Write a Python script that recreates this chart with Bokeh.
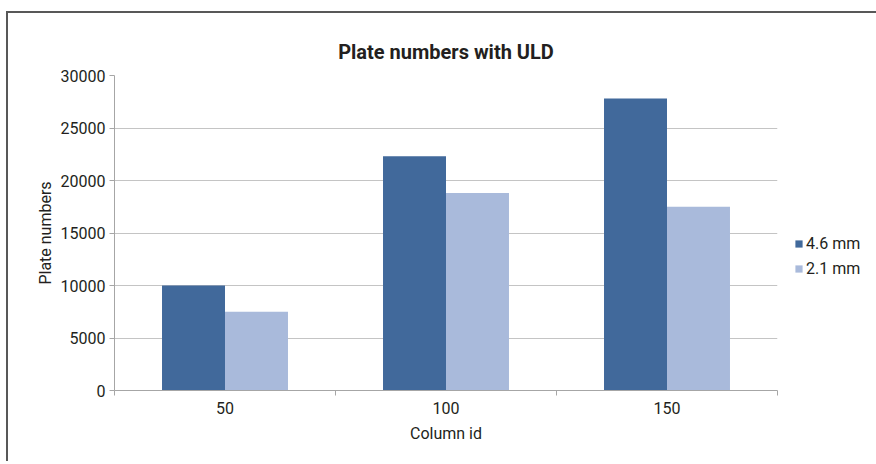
from bokeh.plotting import figure
from bokeh.models import FixedTicker, Legend, LegendItem, Range1d, ColumnDataSource
from bokeh.embed import file_html
from bokeh.resources import INLINE

# ---- data ----
categories = ["50", "100", "150"]
series_names = ["4.6 mm", "2.1 mm"]
values_46 = [10000, 22300, 27800]
values_21 = [7500, 18800, 17500]
y_ticks = [0, 5000, 10000, 15000, 20000, 25000, 30000]
title_text = "Plate numbers with ULD"
x_label = "Column id"
y_label = "Plate numbers"

FONT = "Roboto"
TEXT = "#231f20"
DARK = "#41699b"
LIGHT = "#a9badb"
AXIS = "#a6a6a6"
GRID = "#c4c4c4"

bar_w = 0.285
centers = [i + 0.5 for i in range(len(categories))]
boundaries = list(range(len(categories) + 1))

src = ColumnDataSource(dict(
    x46=[c - bar_w / 2 for c in centers],
    x21=[c + bar_w / 2 for c in centers],
    v46=values_46,
    v21=values_21,
))

p = figure(width=None, height=None, frame_width=663, frame_height=315,
           output_backend="svg", toolbar_location=None,
           x_range=Range1d(0, len(categories)), y_range=Range1d(0, 30000),
           min_border_left=106, min_border_right=99, min_border_top=62, min_border_bottom=71,
           title=title_text,
           styles={"margin-left": "6px", "margin-top": "11px",
                   "border-left": "2px solid #585858", "border-top": "2px solid #585858"})

r1 = p.vbar(x="x46", top="v46", width=bar_w, source=src, fill_color=DARK, line_color=None)
r2 = p.vbar(x="x21", top="v21", width=bar_w, source=src, fill_color=LIGHT, line_color=None)

p.title.align = "center"
p.title.text_font = FONT
p.title.text_font_style = "bold"
p.title.text_font_size = "20px"
p.title.text_color = TEXT
p.title.standoff = 23

# x axis
xa = p.xaxis[0]
xa.ticker = FixedTicker(ticks=centers, minor_ticks=boundaries)
xa.major_label_overrides = {c: lab for c, lab in zip(centers, categories)}
xa.major_tick_line_color = None
xa.major_tick_out = 5
xa.major_tick_in = 0
xa.minor_tick_out = 5
xa.minor_tick_in = 0
xa.minor_tick_line_color = AXIS
xa.axis_line_color = AXIS
xa.axis_label = x_label
xa.major_label_standoff = 6
xa.axis_label_standoff = 7

# y axis
ya = p.yaxis[0]
ya.ticker = FixedTicker(ticks=y_ticks)
ya.major_tick_out = 5
ya.major_tick_in = 0
ya.major_tick_line_color = AXIS
ya.minor_tick_line_color = None
ya.axis_line_color = AXIS
ya.axis_label = y_label
ya.major_label_standoff = 4
ya.axis_label_standoff = 3

for ax in (xa, ya):
    ax.major_label_text_font = FONT
    ax.major_label_text_font_size = "16px"
    ax.major_label_text_color = TEXT
    ax.axis_label_text_font = FONT
    ax.axis_label_text_font_size = "16px"
    ax.axis_label_text_font_style = "normal"
    ax.axis_label_text_color = TEXT

p.xgrid.grid_line_color = None
p.ygrid.grid_line_color = GRID
p.outline_line_color = None

legend = Legend(items=[LegendItem(label=series_names[0], renderers=[r1]),
                       LegendItem(label=series_names[1], renderers=[r2])],
                location="top_left", orientation="vertical",
                title=" ", title_text_font_size="16px", title_standoff=124,
                glyph_width=9, glyph_height=9, label_height=9, spacing=6,
                padding=0, margin=17, label_standoff=3,
                border_line_color=None, background_fill_alpha=0,
                label_text_font=FONT, label_text_font_size="16px", label_text_color=TEXT)
p.add_layout(legend, "right")

open("out.html", "w").write(file_html(p, INLINE))
